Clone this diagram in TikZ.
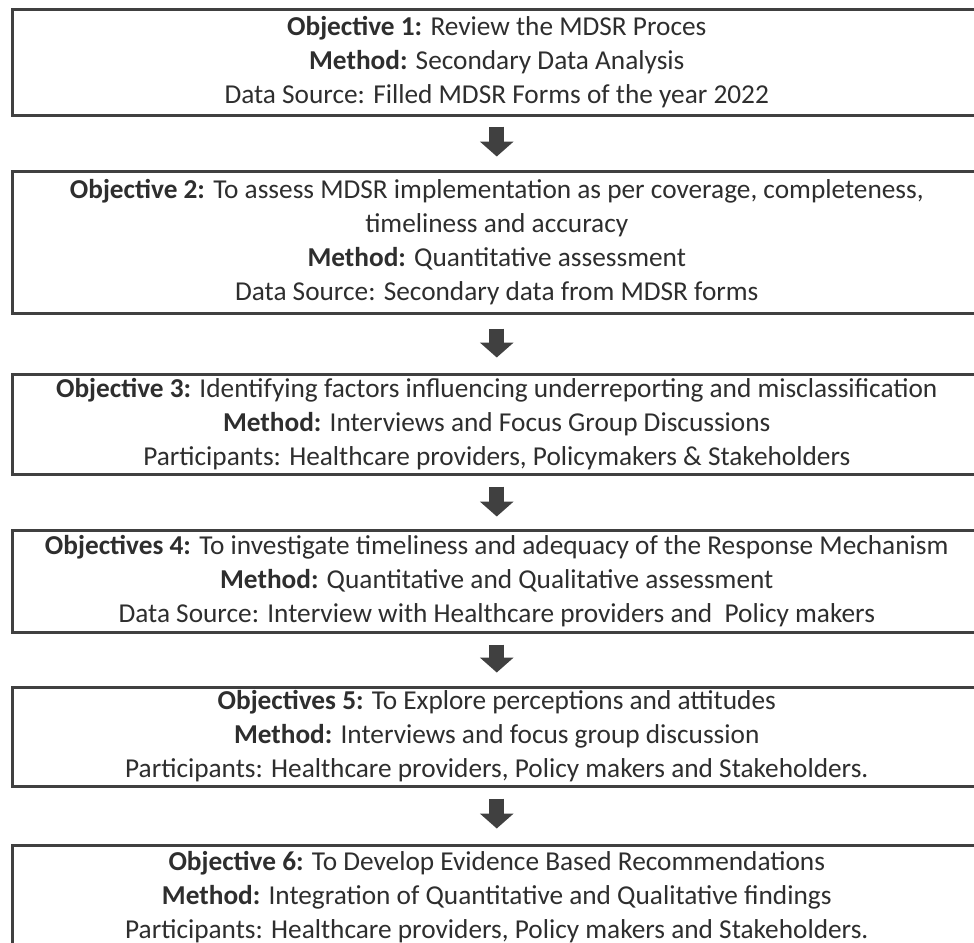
\documentclass[tikz,border=0pt]{standalone}
\usepackage{fontspec}
\setmainfont{Carlito}
\usetikzlibrary{arrows.meta}
\definecolor{edge}{HTML}{404040}
\definecolor{ink}{HTML}{2E2E2E}
\begin{document}
\begin{tikzpicture}[x=1pt,y=-1pt,
  objbox/.style={draw=edge, line width=3pt, minimum width=968.5pt, inner sep=0pt,
    align=center, text=ink, font=\fontsize{27.3}{34}\selectfont},
  blockarrow/.style={draw=edge, line width=15pt,
    -{Triangle[width=33pt,length=15pt]}}]
\clip (0,0) rectangle (974,942);
\fill[white] (0,0) rectangle (974,942);
\node[objbox, minimum height=105pt] (b1) at (496.75,62.5)
  {\textbf{Objective 1:} Review the MDSR Proces\\
   \textbf{Method:} Secondary Data Analysis\\
   Data Source: Filled MDSR Forms of the year 2022};
\node[objbox, minimum height=142pt] (b2) at (496.75,242)
  {\textbf{Objective 2:} To assess MDSR implementation as per coverage, completeness,\\
   timeliness and accuracy\\
   \textbf{Method:} Quantitative assessment\\
   Data Source: Secondary data from MDSR forms};
\node[objbox, minimum height=100pt] (b3) at (496.75,424)
  {\textbf{Objective 3:} Identifying factors influencing underreporting and misclassification\\
   \textbf{Method:} Interviews and Focus Group Discussions\\
   Participants: Healthcare providers, Policymakers \& Stakeholders};
\node[objbox, minimum height=102pt] (b4) at (496.75,581)
  {\textbf{Objectives 4:} To investigate timeliness and adequacy of the Response Mechanism\\
   \textbf{Method:} Quantitative and Qualitative assessment\\
   Data Source: Interview with Healthcare providers and~ Policy makers};
\node[objbox, minimum height=99pt] (b5) at (496.75,736.5)
  {\textbf{Objectives 5:} To Explore perceptions and attitudes\\
   \textbf{Method:} Interviews and focus group discussion\\
   Participants: Healthcare providers, Policy makers and Stakeholders.};
\node[objbox, minimum height=105pt] (b6) at (496.75,897.5)
  {\textbf{Objective 6:} To Develop Evidence Based Recommendations\\
   \textbf{Method:} Integration of Quantitative and Qualitative findings\\
   Participants: Healthcare providers, Policy makers and Stakeholders.};
\draw[blockarrow, shorten <=10pt, shorten >=13pt] (b1.south) -- (b2.north);
\draw[blockarrow, shorten <=14pt, shorten >=15pt] (b2.south) -- (b3.north);
\draw[blockarrow, shorten <=11pt, shorten >=12pt] (b3.south) -- (b4.north);
\draw[blockarrow, shorten <=11pt, shorten >=13pt] (b4.south) -- (b5.north);
\draw[blockarrow, shorten <=11pt, shorten >=15pt] (b5.south) -- (b6.north);
\end{tikzpicture}
\end{document}
